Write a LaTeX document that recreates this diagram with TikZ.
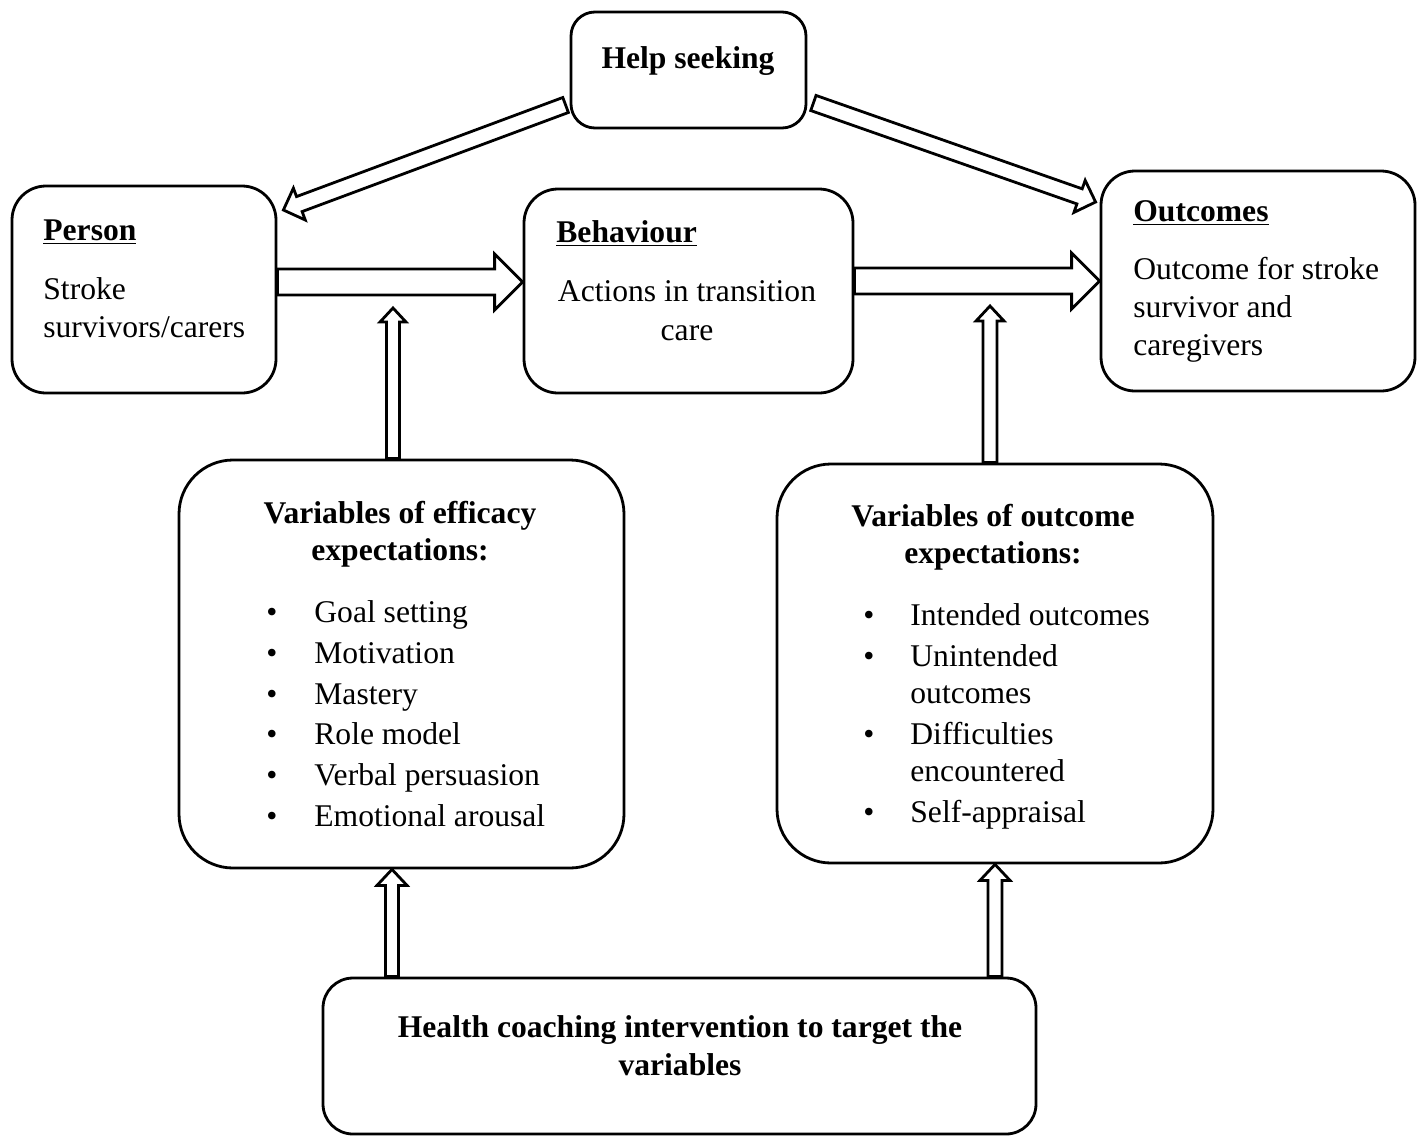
\documentclass[tikz,border=0pt]{standalone}
\usepackage{fontspec}
\setmainfont{Liberation Serif}
\usetikzlibrary{calc}
\tikzset{
  box/.style={draw, line width=1.4pt, inner sep=0pt},
  txt/.style={inner sep=0pt, font=\fontsize{15.8pt}{19pt}\selectfont, text height=13.5pt, text depth=3pt},
  btxt/.style={txt, font=\fontsize{15.8pt}{19pt}\selectfont\bfseries},
  barrow/.style={draw, line width=1.4pt, fill=white, line join=miter},
}
\newcommand\blockarrow[5]{%
  \coordinate (ba-p) at ($(#2)!#5!(#1)$);
  \draw[barrow] ($(#1)!#3!90:(#2)$) -- ($(ba-p)!#3!-90:(#1)$) -- ($(ba-p)!#4!-90:(#1)$) -- (#2)
    -- ($(ba-p)!#4!90:(#1)$) -- ($(ba-p)!#3!90:(#1)$) -- ($(#1)!#3!-90:(#2)$) -- cycle;
}
\begin{document}
\begin{tikzpicture}[x=0.5pt, y=-0.5pt]
\useasboundingbox (0,0) rectangle (1425,1136);
% boxes
\node[box, rounded corners=12pt, minimum width=117.5pt, minimum height=58pt] (Help) at (688.5,70) {};
\node[box, rounded corners=17pt, minimum width=132pt, minimum height=103.5pt] (Person) at (144,289.5) {};
\node[box, rounded corners=17pt, minimum width=164.5pt, minimum height=102pt] (Behaviour) at (688.5,291) {};
\node[box, rounded corners=17pt, minimum width=157pt, minimum height=110pt] (Outcomes) at (1258,281) {};
\node[box, rounded corners=27pt, minimum width=222.5pt, minimum height=204pt] (Efficacy) at (401.5,664) {};
\node[box, rounded corners=27pt, minimum width=218pt, minimum height=199.5pt] (OutExp) at (995,663.5) {};
\node[box, rounded corners=15pt, minimum width=356.5pt, minimum height=78pt] (Health) at (679.5,1056) {};

% texts
\node[btxt] (tHelp) at (688,58) {Help seeking};
\node[btxt, anchor=west] (tPerson) at (43,230) {\underline{Person}};
\node[txt, anchor=west] (tP1) at (43,289) {Stroke};
\node[txt, anchor=west] (tP2) at (43,327) {survivors/carers};
\node[btxt, anchor=west] (tBeh) at (556,232) {\underline{Behaviour}};
\node[txt] (tB1) at (687,291) {Actions in transition};
\node[txt] (tB2) at (687,330) {care};
\node[btxt, anchor=west] (tOut) at (1133,211) {\underline{Outcomes}};
\node[txt, anchor=west] (tO1) at (1133,269) {Outcome for stroke};
\node[txt, anchor=west] (tO2) at (1133,307) {survivor and};
\node[txt, anchor=west] (tO3) at (1133,345) {caregivers};

\node[btxt] (tE1) at (400,513) {Variables of efficacy};
\node[btxt] (tE2) at (400,550) {expectations:};
\foreach \y/\t [count=\i] in {612/Goal setting, 653/Motivation, 694/Mastery, 734/Role model, 775/Verbal persuasion, 816/Emotional arousal}{
  \node[txt] (eb\i) at (272,\y) {\textbullet};
  \node[txt, anchor=west] (et\i) at (314,\y) {\t};
}

\node[btxt] (tX1) at (993,516) {Variables of outcome};
\node[btxt] (tX2) at (993,553) {expectations:};
\foreach \y [count=\i] in {615,656,734,812}{
  \node[txt] (xb\i) at (869,\y) {\textbullet};
}
\node[txt, anchor=west] (xt1) at (910,615) {Intended outcomes};
\node[txt, anchor=west] (xt2) at (910,656) {Unintended};
\node[txt, anchor=west] (xt3) at (910,693) {outcomes};
\node[txt, anchor=west] (xt4) at (910,734) {Difficulties};
\node[txt, anchor=west] (xt5) at (910,771) {encountered};
\node[txt, anchor=west] (xt6) at (910,812) {Self-appraisal};

\node[btxt] (tH1) at (680,1027) {Health coaching intervention to target the};
\node[btxt] (tH2) at (680,1065) {variables};

% arrow endpoints
\coordinate (hp1) at ($(Help.west)+(-4,35)$);
\coordinate (hp2) at ($(Person.east)+(6,-79.5)$);
\coordinate (ho1) at ($(Help.east)+(6,33)$);
\coordinate (ho2) at ($(Outcomes.west)+(-4,-79)$);
\coordinate (pb1) at (Person.east |- 0,282);
\coordinate (pb2) at (Behaviour.west |- 0,282);
\coordinate (bo1) at (Behaviour.east |- 0,281);
\coordinate (bo2) at (Outcomes.west |- 0,281);
\coordinate (ef1) at (Efficacy.north -| 393,0);
\coordinate (efTip) at (393,308);
\coordinate (ox1) at (OutExp.north -| 990,0);
\coordinate (oxTip) at (990,306);
\coordinate (he1) at (Health.north -| 392,0);
\coordinate (he2) at (Efficacy.south -| 392,0);
\coordinate (hx1) at (Health.north -| 995,0);
\coordinate (hx2) at (OutExp.south -| 995,0);

% arrows
\blockarrow{hp1}{hp2}{4pt}{8.5pt}{8.5pt}
\blockarrow{ho1}{ho2}{4pt}{8.5pt}{8.5pt}
\blockarrow{pb1}{pb2}{6.5pt}{14pt}{14pt}
\blockarrow{bo1}{bo2}{6.5pt}{14pt}{14pt}
\blockarrow{ef1}{efTip}{3.25pt}{6.5pt}{7pt}
\blockarrow{ox1}{oxTip}{3.5pt}{7pt}{7.5pt}
\blockarrow{he1}{he2}{3.25pt}{7.5pt}{8pt}
\blockarrow{hx1}{hx2}{3.5pt}{7.5pt}{8pt}
\end{tikzpicture}
\end{document}
